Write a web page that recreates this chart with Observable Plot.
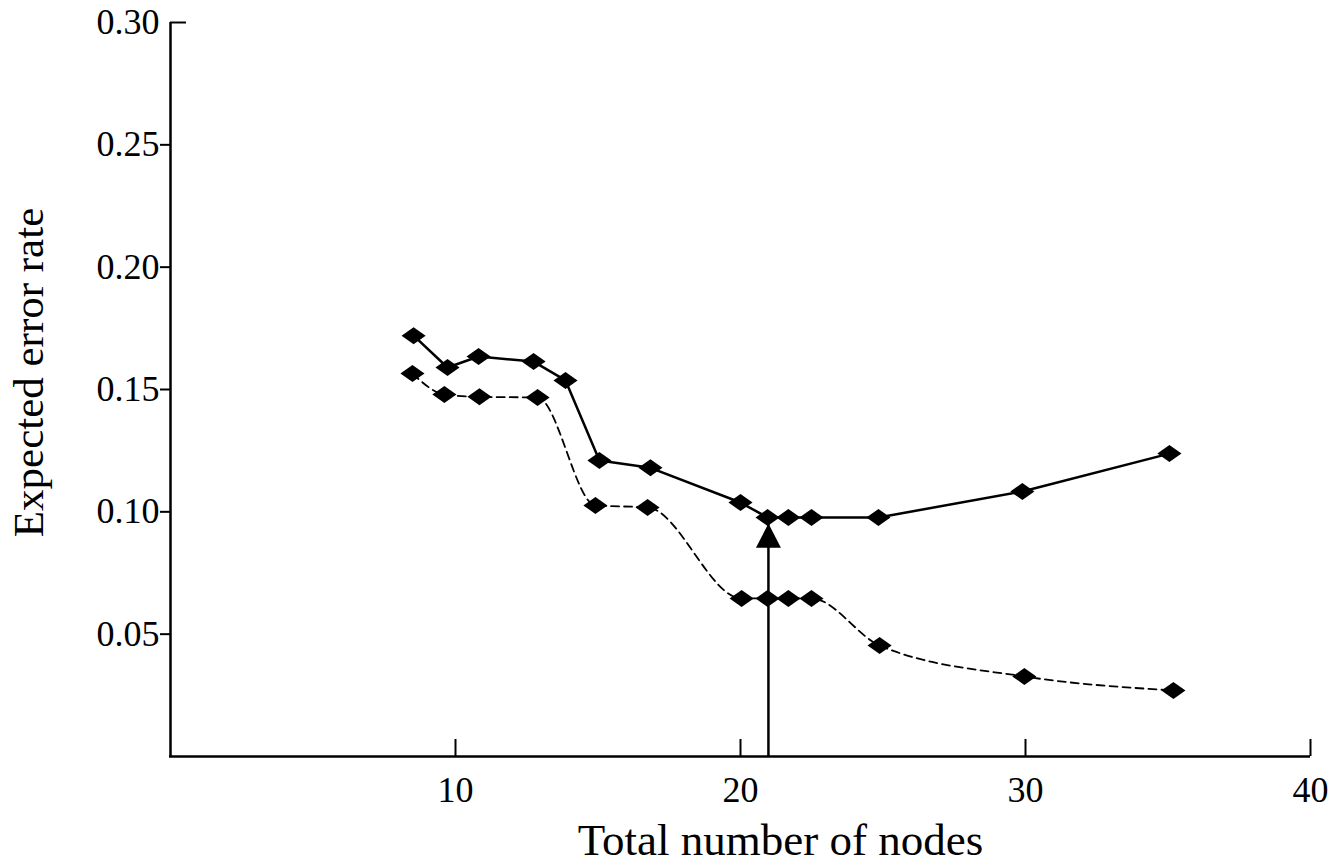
<!DOCTYPE html>
<html>
<head>
<meta charset="utf-8">
<script src="https://cdn.jsdelivr.net/npm/d3@7"></script>
<script src="https://cdn.jsdelivr.net/npm/@observablehq/plot@0.6"></script>
<style>
  html, body { margin: 0; padding: 0; background: #fff; }
  #chart { width: 1337px; height: 866px; overflow: hidden; }
</style>
</head>
<body>
<div id="chart"></div>
<script>
// ---- data ----
const nodesSolid  = [8.53, 9.72, 10.81, 12.74, 13.86, 15.05, 16.84, 20.0, 20.95, 21.68, 22.49, 24.84, 29.89, 35.05];
const errorSolid  = [0.172, 0.159, 0.1635, 0.1614, 0.1537, 0.121, 0.118, 0.1038, 0.0977, 0.0977, 0.0977, 0.0977, 0.1083, 0.1238];
const nodesDashed = [8.49, 9.61, 10.84, 12.88, 14.91, 16.74, 20.04, 20.95, 21.68, 22.49, 24.88, 29.96, 35.19];
const errorDashed = [0.1565, 0.148, 0.147, 0.1467, 0.1026, 0.1018, 0.0646, 0.0646, 0.0646, 0.0646, 0.0454, 0.0327, 0.027];
const arrowNodes = [20.98];
const arrowTip   = [0.0952];
const xTicks = [10, 20, 30, 40];
const yTicksLeft = [0.05, 0.10, 0.15, 0.20, 0.25];
const yTicksTop  = [0.30];
const xLabel = "Total number of nodes";
const yLabel = "Expected error rate";

const solid  = nodesSolid.map((x, i) => ({x, y: errorSolid[i]}));
const dashed = nodesDashed.map((x, i) => ({x, y: errorDashed[i]}));
const arrow  = arrowNodes.map((x, i) => ({x, y: arrowTip[i]}));

// ---- layout ----
const W = 1337, H = 866;
const mL = 170, mR = 27, mT = 22, mB = 110;
const plotW = W - mL - mR, plotH = H - mT - mB;

const wideDiamond = {
  draw(ctx, size) {
    const s = Math.sqrt(size);
    const hw = s * 0.85, hh = s * 0.6;
    ctx.moveTo(0, -hh); ctx.lineTo(hw, 0); ctx.lineTo(0, hh); ctx.lineTo(-hw, 0); ctx.closePath();
  }
};
const headUp = {
  draw(ctx, size) {
    const s = Math.sqrt(size);
    const hw = s * 0.75, h = s * 1.45;
    ctx.moveTo(0, 0); ctx.lineTo(hw, h); ctx.lineTo(-hw, h); ctx.closePath();
  }
};

const chart = Plot.plot({
  width: W, height: H,
  marginLeft: mL, marginRight: mR, marginTop: mT, marginBottom: mB,
  style: {fontFamily: "'Liberation Serif', 'Times New Roman', serif", fontSize: "36px", background: "#fff", color: "#000"},
  x: {domain: [0, 40]},
  y: {domain: [0, 0.30]},
  marks: [
    Plot.axisX(xTicks, {tickSize: 0, tickPadding: 20, label: null}),
    Plot.tickX(xTicks, {x: d => d, insetTop: plotH - 17, strokeWidth: 2, stroke: "#000"}),
    Plot.axisY(yTicksLeft, {tickSize: 10, tickPadding: 1, strokeWidth: 2, tickFormat: d => d.toFixed(2), label: null}),
    Plot.axisY(yTicksTop, {tickSize: 0, tickPadding: 11, tickFormat: d => d.toFixed(2), label: null}),
    Plot.tickY(yTicksTop, {y: d => d, insetRight: plotW - 16, strokeWidth: 2, stroke: "#000"}),
    Plot.ruleY([0], {strokeWidth: 2.5, stroke: "#000", insetLeft: -1}),
    Plot.ruleX([0], {strokeWidth: 2.5, stroke: "#000"}),
    Plot.line(dashed, {x: "x", y: "y", stroke: "#000", strokeWidth: 1.8, strokeDasharray: "8,5", curve: "monotone-x"}),
    Plot.line(solid, {x: "x", y: "y", stroke: "#000", strokeWidth: 2.5}),
    Plot.ruleX(arrow, {x: "x", y1: 0, y2: "y", stroke: "#000", strokeWidth: 2.5}),
    Plot.dot(arrow, {x: "x", y: "y", symbol: headUp, r: 9.4, fill: "#000", stroke: "none"}),
    Plot.dot(dashed, {x: "x", y: "y", symbol: wideDiamond, r: 8, fill: "#000", stroke: "none"}),
    Plot.dot(solid, {x: "x", y: "y", symbol: wideDiamond, r: 8, fill: "#000", stroke: "none"}),
    Plot.text([xLabel], {frameAnchor: "bottom", text: d => d, fontSize: 45, dx: 40, dy: 84, lineAnchor: "middle", textAnchor: "middle", fill: "#000"}),
    Plot.text([yLabel], {frameAnchor: "left", text: d => d, fontSize: 43, rotate: -90, dx: -141, dy: -17, lineAnchor: "middle", textAnchor: "middle", fill: "#000"})
  ]
});
document.getElementById("chart").appendChild(chart);
</script>
</body>
</html>
